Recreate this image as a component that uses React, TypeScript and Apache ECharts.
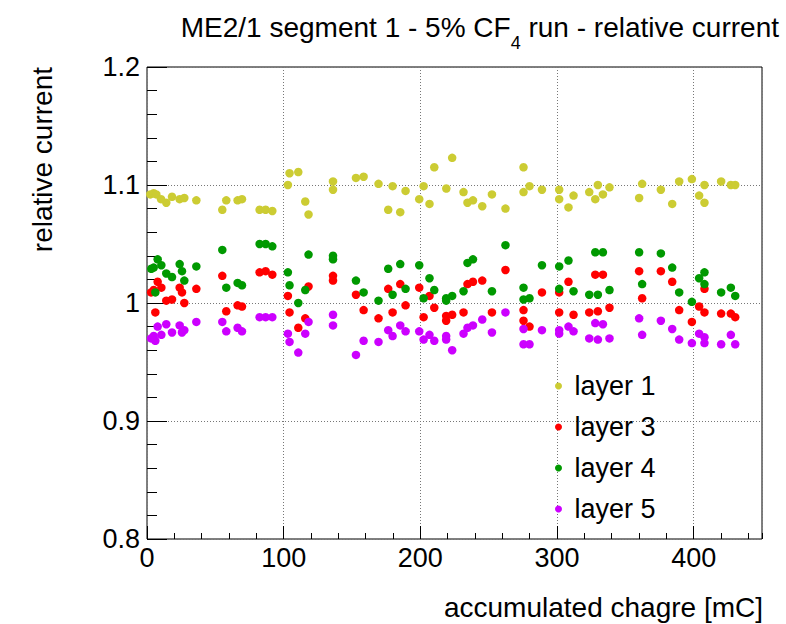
import React, { useEffect, useRef } from "react";
import * as echarts from "echarts";

const FONT = "'Liberation Sans', Arial, Helvetica, sans-serif";

const layer1X = [2.4, 4.9, 6.8, 10.3, 14.1, 18.3, 23.9, 27.3, 36.1, 55.1, 58.0, 66.3, 69.5, 82.4, 86.8, 91.7, 103.1, 104.3, 110.7, 115.8, 118.2, 136.1, 136.1, 152.9, 158.5, 169.4, 176.5, 179.7, 185.3, 189.2, 199.2, 202.4, 206.7, 210.2, 219.0, 223.3, 231.6, 234.5, 238.5, 245.3, 252.4, 262.3, 275.5, 275.5, 279.9, 289.0, 301.6, 301.6, 308.4, 312.1, 323.6, 328.0, 329.9, 333.6, 338.4, 360.1, 362.3, 376.0, 384.3, 389.4, 398.7, 404.0, 407.9, 407.9, 420.1, 427.2, 430.4];
const layer1Y = [1.092, 1.093, 1.092, 1.088, 1.085, 1.090, 1.088, 1.089, 1.087, 1.079, 1.087, 1.087, 1.088, 1.079, 1.079, 1.078, 1.100, 1.110, 1.111, 1.086, 1.075, 1.103, 1.096, 1.106, 1.107, 1.101, 1.079, 1.099, 1.077, 1.095, 1.088, 1.099, 1.084, 1.115, 1.097, 1.123, 1.094, 1.085, 1.087, 1.082, 1.092, 1.080, 1.115, 1.094, 1.099, 1.096, 1.096, 1.088, 1.081, 1.091, 1.094, 1.088, 1.100, 1.092, 1.098, 1.089, 1.101, 1.096, 1.084, 1.103, 1.105, 1.091, 1.100, 1.085, 1.103, 1.100, 1.100];

const layer3X = [3.0, 4.9, 6.1, 7.8, 10.5, 14.1, 18.3, 23.9, 25.6, 27.3, 36.1, 55.1, 58.0, 66.3, 69.5, 82.4, 86.8, 91.7, 103.1, 104.3, 110.7, 115.8, 118.2, 136.1, 136.1, 152.9, 158.5, 169.4, 176.5, 179.7, 185.3, 189.2, 199.2, 202.4, 206.7, 210.2, 218.9, 218.9, 223.3, 231.6, 234.5, 238.5, 245.3, 252.4, 262.3, 275.5, 275.5, 279.9, 289.0, 301.6, 301.6, 308.4, 312.1, 323.6, 328.0, 329.9, 333.6, 338.4, 360.1, 362.3, 376.0, 384.3, 389.4, 398.7, 404.0, 407.9, 407.9, 420.1, 427.2, 430.4];
const layer3Y = [1.009, 1.011, 0.992, 1.018, 1.013, 1.002, 1.003, 1.013, 1.009, 1.000, 1.012, 1.023, 0.993, 0.998, 0.997, 1.026, 1.027, 1.024, 1.006, 0.992, 0.979, 0.987, 1.014, 1.023, 1.019, 1.007, 0.994, 0.987, 1.012, 0.992, 1.016, 0.998, 1.013, 0.988, 1.006, 0.996, 0.989, 0.985, 0.990, 0.992, 1.016, 1.018, 1.019, 0.992, 1.028, 0.994, 0.985, 0.980, 1.009, 1.009, 0.992, 1.018, 0.990, 0.992, 1.024, 0.993, 1.024, 0.996, 1.027, 1.004, 1.027, 1.018, 0.994, 0.984, 0.997, 1.012, 0.992, 0.991, 0.991, 0.988];

const layer4X = [3.1, 4.9, 6.1, 7.8, 10.5, 14.1, 18.3, 23.9, 25.6, 27.3, 36.1, 55.1, 58.0, 66.3, 69.5, 82.4, 86.8, 91.7, 103.1, 104.3, 110.7, 115.8, 118.2, 136.1, 136.1, 152.9, 158.5, 169.4, 176.5, 179.7, 185.3, 189.2, 199.2, 202.4, 206.7, 210.2, 218.9, 218.9, 223.3, 231.6, 234.5, 238.5, 252.4, 262.3, 275.5, 275.5, 279.9, 289.0, 301.6, 301.6, 308.4, 312.1, 323.6, 328.0, 329.9, 333.6, 338.4, 360.1, 362.3, 376.0, 384.3, 389.4, 398.7, 404.0, 407.9, 407.9, 420.1, 427.2, 430.4];
const layer4Y = [1.029, 1.030, 1.009, 1.037, 1.032, 1.025, 1.022, 1.033, 1.027, 1.019, 1.031, 1.045, 1.013, 1.017, 1.015, 1.050, 1.050, 1.048, 1.026, 1.015, 1.000, 1.011, 1.041, 1.040, 1.037, 1.019, 1.009, 1.002, 1.029, 1.007, 1.033, 1.012, 1.032, 1.004, 1.021, 1.011, 1.004, 1.002, 1.006, 1.010, 1.034, 1.037, 1.010, 1.049, 1.013, 1.003, 1.004, 1.032, 1.031, 1.012, 1.036, 1.010, 1.007, 1.043, 1.007, 1.043, 1.011, 1.043, 1.016, 1.042, 1.030, 1.009, 1.001, 1.021, 1.026, 1.016, 1.009, 1.013, 1.006];

const layer5X = [3.0, 4.9, 6.1, 7.8, 10.5, 14.1, 18.3, 23.9, 25.6, 27.3, 36.1, 55.1, 58.0, 66.3, 69.5, 82.4, 86.8, 91.7, 103.1, 104.3, 110.7, 115.8, 118.2, 136.1, 136.1, 152.9, 158.5, 169.4, 176.5, 179.7, 185.3, 189.2, 199.2, 202.4, 206.7, 210.2, 218.9, 218.9, 223.3, 231.6, 234.5, 238.5, 245.3, 252.4, 262.3, 275.5, 275.5, 279.9, 289.0, 301.6, 301.6, 308.4, 312.1, 323.6, 328.0, 329.9, 333.6, 338.4, 360.1, 362.3, 376.0, 384.3, 389.4, 398.7, 404.0, 407.9, 407.9, 420.1, 427.2, 430.4];
const layer5Y = [0.970, 0.972, 0.968, 0.980, 0.973, 0.982, 0.975, 0.981, 0.975, 0.977, 0.984, 0.984, 0.976, 0.979, 0.976, 0.988, 0.988, 0.988, 0.974, 0.967, 0.958, 0.974, 0.984, 0.990, 0.981, 0.956, 0.968, 0.967, 0.977, 0.972, 0.981, 0.976, 0.976, 0.969, 0.973, 0.968, 0.972, 0.969, 0.960, 0.974, 0.979, 0.981, 0.986, 0.975, 0.992, 0.978, 0.965, 0.965, 0.977, 0.977, 0.974, 0.980, 0.976, 0.970, 0.983, 0.969, 0.982, 0.970, 0.987, 0.973, 0.985, 0.978, 0.969, 0.966, 0.974, 0.971, 0.966, 0.965, 0.973, 0.965];

const seriesNames = ["layer 1", "layer 3", "layer 4", "layer 5"];
const seriesColors = ["#cccc33", "#ff0000", "#009900", "#cc00ff"];

const titleParts = ["ME2/1 segment 1 - 5% CF", "4", " run - relative current"];
const xTitle = "accumulated chagre [mC]";
const yTitle = "relative current";

const xMin = 0;
const xMax = 450;
const yMin = 0.8;
const yMax = 1.2;

function pairs(xs: number[], ys: number[]) {
  return xs.map((x, i) => [x, ys[i]]);
}

export default function App() {
  const ref = useRef<HTMLDivElement>(null);
  useEffect(() => {
    if (!ref.current) return;
    const chart = echarts.init(ref.current, undefined, { renderer: "svg" });
    const data = [
      pairs(layer1X, layer1Y),
      pairs(layer3X, layer3Y),
      pairs(layer4X, layer4Y),
      pairs(layer5X, layer5Y),
    ];
    const gridLine = { show: true, lineStyle: { type: [1, 2] as any, color: "#777", width: 1 } };
    chart.setOption({
      animation: false,
      backgroundColor: "#fff",
      textStyle: { fontFamily: FONT },
      title: {
        text: `{a|${titleParts[0]}}{s|${titleParts[1]}}{a|${titleParts[2]}}`,
        right: 7,
        top: 13,
        padding: 0,
        textStyle: {
          fontWeight: "normal",
          rich: {
            a: { fontFamily: FONT, fontSize: 28, fontWeight: "normal", color: "#000", lineHeight: 30, verticalAlign: "top" },
            s: { fontFamily: FONT, fontSize: 18, fontWeight: "normal", color: "#000", lineHeight: 18, verticalAlign: "top", padding: [21, 0, 0, 0] },
          },
        },
      },
      grid: {
        left: 147,
        right: 24,
        top: 67,
        bottom: 85,
        show: true,
        borderColor: "#000",
        borderWidth: 1,
        backgroundColor: "transparent",
      },
      legend: {
        orient: "vertical",
        left: 555,
        top: 371,
        icon: "circle",
        itemWidth: 20,
        itemHeight: 7,
        itemGap: 11,
        padding: 0,
        data: seriesNames,
        textStyle: { fontFamily: FONT, fontSize: 27, color: "#000", lineHeight: 30, padding: [0, 0, 0, 1] },
      },
      xAxis: [
        {
          type: "value",
          position: "bottom",
          min: xMin,
          max: xMax,
          interval: 100,
          axisLine: { show: false },
          axisTick: { show: true, inside: true, length: 13, lineStyle: { color: "#000" } },
          axisLabel: { fontFamily: FONT, fontSize: 27, color: "#000", margin: 5, showMaxLabel: false },
          splitLine: gridLine,
        },
        {
          type: "value",
          position: "bottom",
          min: xMin,
          max: xMax,
          interval: 20,
          axisLine: { show: false },
          axisTick: { show: true, inside: true, length: 6, lineStyle: { color: "#000" } },
          axisLabel: { show: false },
          splitLine: { show: false },
        },
      ],
      yAxis: {
        type: "value",
        min: yMin,
        max: yMax,
        interval: 0.1,
        axisLine: { show: false },
        axisTick: { show: true, inside: true, length: 20, lineStyle: { color: "#000" } },
        minorTick: { show: true, splitNumber: 5, length: 10, lineStyle: { color: "#000" } },
        axisLabel: {
          fontFamily: FONT,
          fontSize: 27,
          color: "#000",
          margin: 7,
          formatter: (v: number) => String(+v.toFixed(2)),
        },
        splitLine: gridLine,
      },
      graphic: [
        {
          type: "text",
          x: 42,
          y: 67,
          rotation: Math.PI / 2,
          style: { text: yTitle, font: `28px ${FONT}`, fill: "#000", textAlign: "right", textVerticalAlign: "middle" },
        },
        {
          type: "text",
          x: 763,
          y: 607,
          style: { text: xTitle, font: `28px ${FONT}`, fill: "#000", textAlign: "right", textVerticalAlign: "middle" },
        },
      ],
      series: data.map((d, i) => ({
        name: seriesNames[i],
        type: "scatter",
        xAxisIndex: 0,
        symbol: "circle",
        symbolSize: 8.5,
        itemStyle: { color: seriesColors[i], opacity: 1 },
        data: d,
        z: 2 + i,
      })),
    });
    return () => chart.dispose();
  }, []);
  return (
    <div
      ref={ref}
      style={{ position: "fixed", left: 0, top: 0, width: 786, height: 624, background: "#fff" }}
    />
  );
}
